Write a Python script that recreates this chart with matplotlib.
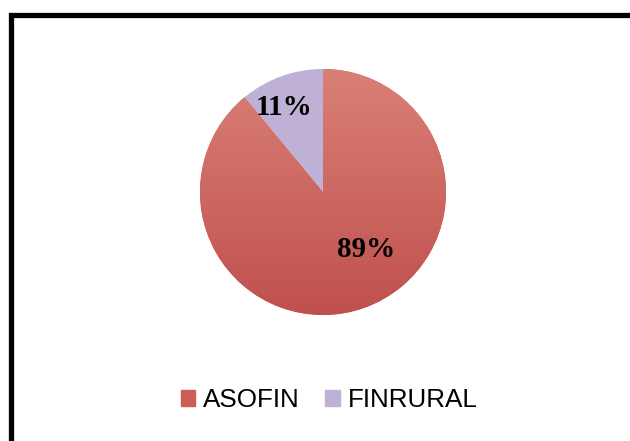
import numpy as np
import matplotlib.pyplot as plt
from matplotlib.patches import Rectangle

# data
labels = ['ASOFIN', 'FINRURAL']
values = [89, 11]
colors = ['#C9564F', '#BFB1D5']

fig = plt.figure(figsize=(6.3, 4.41), dpi=100)
W, H = 630, 441

# black frame (right and bottom run off the image)
fig.patches.append(Rectangle((10.5 / W, -0.1), 1.0, (H - 14.5) / H + 0.1,
                             transform=fig.transFigure, fill=False,
                             edgecolor='black', lw=3.8))

# pie axes: center (323,192), radius ~123 px
r = 123
cx, cy = 323, 192
ax = fig.add_axes([(cx - r) / W, (H - cy - r) / H, 2 * r / W, 2 * r / H])
wedges, texts = ax.pie(values, colors=colors, startangle=90, counterclock=False,
                       radius=1.0)
ax.set_aspect('equal')
ax.axis('off')

# vertical gradient on the ASOFIN wedge (light at top, dark at bottom)
grad = np.linspace(0, 1, 256).reshape(-1, 1)
top = np.array([0xD9, 0x80, 0x77]) / 255
bot = np.array([0xC0, 0x50, 0x4D]) / 255
img = top + (bot - top) * grad[:, :, None]
im = ax.imshow(img, extent=[-1, 1, -1, 1], origin='upper',
               zorder=wedges[0].get_zorder() + 0.1)
im.set_clip_path(wedges[0])
ax.set_xlim(-1, 1)
ax.set_ylim(-1, 1)

# percent labels
ax.text(0.35, -0.47, '89%', ha='center', va='center', fontsize=21,
        fontweight='bold', family='Liberation Serif', zorder=10)
ax.text(-0.32, 0.69, '11%', ha='center', va='center', fontsize=21,
        fontweight='bold', family='Liberation Serif', zorder=10)

# legend
handles = [plt.Rectangle((0, 0), 1, 1, color=c) for c in ['#CC5E57', '#BFB1D5']]
fig.legend(handles, labels, loc='center', bbox_to_anchor=(329 / W, 1 - 400 / H),
           ncol=2, frameon=False, prop={'family': 'Liberation Sans', 'size': 18.7},
           handlelength=0.55, handleheight=0.55, handletextpad=0.3, columnspacing=1.0)

fig.savefig('out.png', dpi=100)
